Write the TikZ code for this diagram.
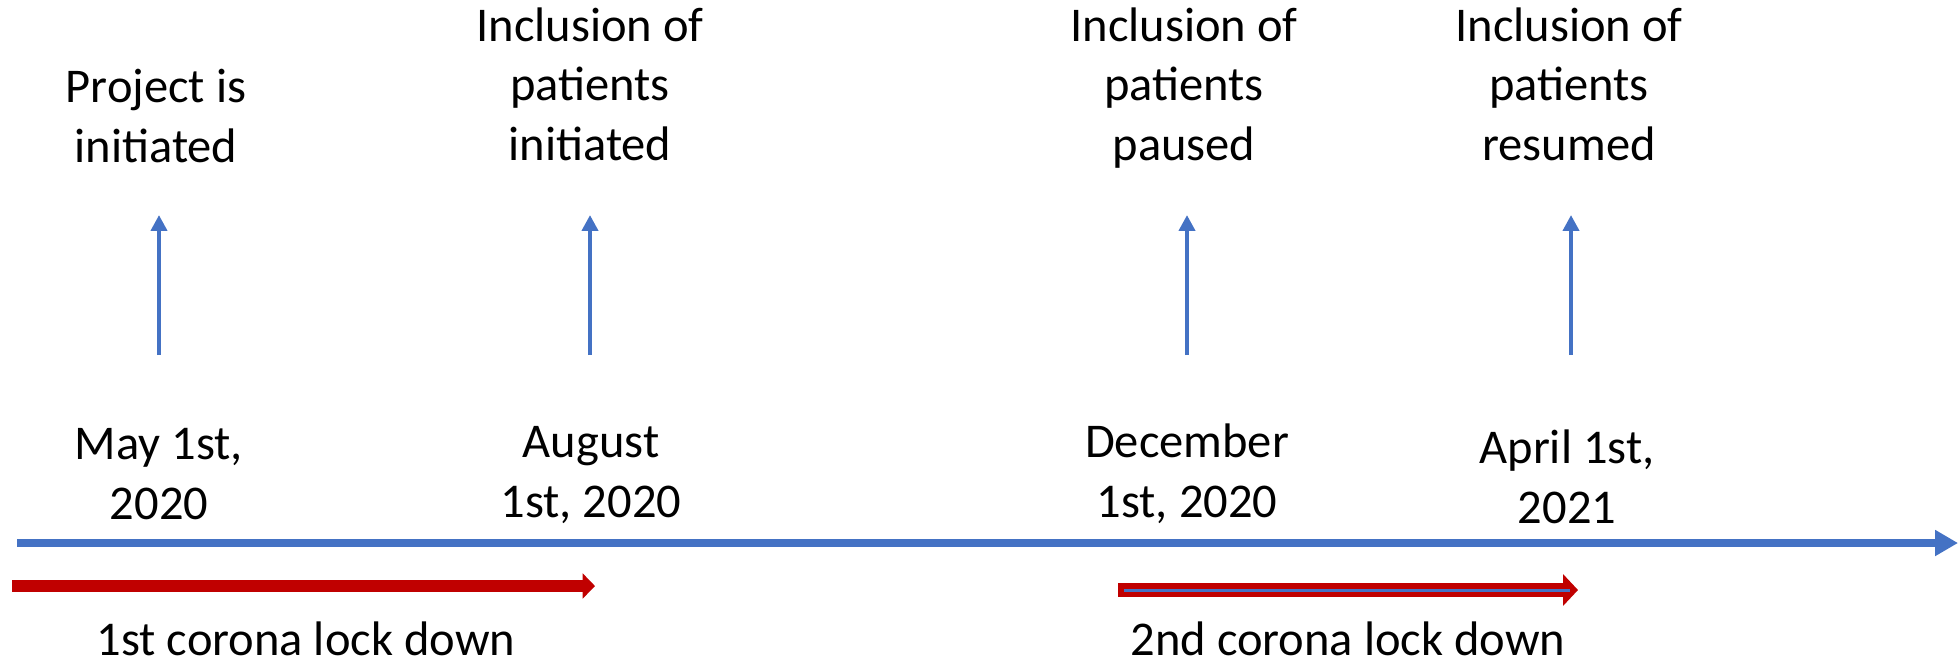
\documentclass[tikz,border=0pt]{standalone}
\usepackage{fontspec}
\setmainfont{Carlito}
\usepackage{tikz}
\usetikzlibrary{arrows.meta}
\definecolor{axisblue}{HTML}{4472C4}
\definecolor{lockred}{HTML}{C00000}

\begin{document}
\begin{tikzpicture}[x=0.02cm,y=-0.02cm,
	lbl/.style={align=center,inner sep=0pt,anchor=base,font=\fontsize{27.6}{33.6}\selectfont},
	timeline/.style={axisblue,line width=4.5pt,-{Triangle[length=13pt,width=14pt]}},
	event/.style={axisblue,line width=2.6pt,-{Triangle[length=9pt,width=9pt]}},
	lockdown/.style={lockred,line width=6.3pt,-{Triangle[length=7pt,width=14pt]}}]
		\useasboundingbox (0,0) rectangle (1959,664);
		% events
		\node[lbl] (e1) at (156,162) {Project is\\initiated};
		\node[lbl] (e2) at (590,160) {Inclusion of\\patients\\initiated};
		\node[lbl] (e3) at (1184,160) {Inclusion of\\patients\\paused};
		\node[lbl] (e4) at (1569,160) {Inclusion of\\patients\\resumed};
		% dates
		\node[lbl] (d1) at (159,519) {May 1st,\\2020};
		\node[lbl] (d2) at (591,517) {August\\1st, 2020};
		\node[lbl] (d3) at (1187,517) {December\\1st, 2020};
		\node[lbl] (d4) at (1567,523) {April 1st,\\2021};
		% lock downs
		\node[lbl] (l1) at (306,655) {1st corona lock down};
		\node[lbl] (l2) at (1348,655) {2nd corona lock down};
		% arrows
		\coordinate (b1) at (159,355); \coordinate (t1) at (159,215);
		\coordinate (b2) at (590,355); \coordinate (t2) at (590,215);
		\coordinate (b3) at (1187,355); \coordinate (t3) at (1187,215);
		\coordinate (b4) at (1571,355); \coordinate (t4) at (1571,215);
		\draw[event] (b1) -- (t1);
		\draw[event] (b2) -- (t2);
		\draw[event] (b3) -- (t3);
		\draw[event] (b4) -- (t4);
		\coordinate (axisL) at (17,543); \coordinate (axisR) at (1958,543);
		\draw[timeline] (axisL) -- (axisR);
		\coordinate (r1L) at (12,586); \coordinate (r1R) at (595,586);
		\draw[lockdown] (r1L) -- (r1R);
		\coordinate (r2L) at (1118,590); \coordinate (r2R) at (1578,590);
		\draw[lockdown,line width=8.5pt,-{Triangle[length=8.5pt,width=17.6pt]}] (r2L) -- (r2R);
		\coordinate (r2a) at (1124,590); \coordinate (r2b) at (1570,590);
		\draw[axisblue,line width=1.7pt] (r2a) -- (r2b);
\end{tikzpicture}
\end{document}
